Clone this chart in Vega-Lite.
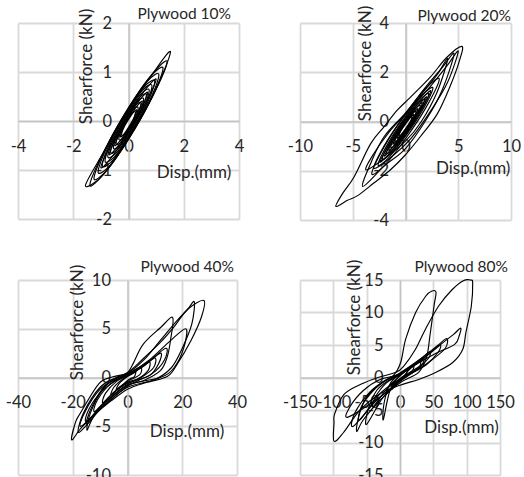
{
"$schema": "https://vega.github.io/schema/vega-lite/v6.json",
"padding": {"left": 5, "top": 5, "right": 0, "bottom": 0},
"background": "white",
"config": {
 "view": {"stroke": null},
 "font": "Lato",
 "axis": {"grid": true, "gridColor": "#d9d9d9", "gridWidth": 1.8, "domainColor": "#c4c4c4", "domainWidth": 1.5, "ticks": false, "tickSize": 0, "labelFont": "Lato", "labelFontSize": 16.5, "labelColor": "#262626", "labelFlush": false, "labelOverlap": false, "labelExpr": "'' + datum.value", "titleFont": "Lato", "titleFontSize": 17, "titleFontWeight": "normal", "titleColor": "#262626", "titleAlign": "center", "titleBaseline": "middle"},
 "axisX": {"labelPadding": 17},
 "axisY": {"labelPadding": 17},
 "title": {"font": "Lato", "fontSize": 15.5, "fontWeight": "normal", "color": "#262626", "anchor": "end", "frame": "group"},
 "line": {"color": "black", "strokeWidth": 1.15, "interpolate": "cardinal-closed"}
},
"columns": 2,
"spacing": {"row": 60, "column": 61},
"bounds": "flush",
"concat": [
{
 "width": 221, "height": 196,
 "title": {"text": "Plywood 10%", "offset": -14, "dx": -8},
 "data": {"values": [
{"c":1,"i":1,"x":0.25,"y":0.175},{"c":1,"i":2,"x":0.15,"y":-0.011},{"c":1,"i":3,"x":0,"y":-0.17},{"c":1,"i":4,"x":-0.15,"y":-0.281},{"c":1,"i":5,"x":-0.25,"y":-0.275},{"c":1,"i":6,"x":-0.15,"y":-0.089},{"c":1,"i":7,"x":0,"y":0.07},{"c":1,"i":8,"x":0.15,"y":0.181},
{"c":2,"i":1,"x":0.35,"y":0.265},{"c":2,"i":2,"x":0.21,"y":0.019},{"c":2,"i":3,"x":0,"y":-0.2},{"c":2,"i":4,"x":-0.21,"y":-0.359},{"c":2,"i":5,"x":-0.35,"y":-0.365},{"c":2,"i":6,"x":-0.21,"y":-0.119},{"c":2,"i":7,"x":0,"y":0.1},{"c":2,"i":8,"x":0.21,"y":0.259},
{"c":3,"i":1,"x":0.45,"y":0.355},{"c":3,"i":2,"x":0.27,"y":0.049},{"c":3,"i":3,"x":0,"y":-0.23},{"c":3,"i":4,"x":-0.27,"y":-0.437},{"c":3,"i":5,"x":-0.45,"y":-0.455},{"c":3,"i":6,"x":-0.27,"y":-0.149},{"c":3,"i":7,"x":0,"y":0.13},{"c":3,"i":8,"x":0.27,"y":0.337},
{"c":4,"i":1,"x":0.55,"y":0.445},{"c":4,"i":2,"x":0.33,"y":0.087},{"c":4,"i":3,"x":0,"y":-0.25},{"c":4,"i":4,"x":-0.33,"y":-0.507},{"c":4,"i":5,"x":-0.55,"y":-0.545},{"c":4,"i":6,"x":-0.33,"y":-0.187},{"c":4,"i":7,"x":0,"y":0.15},{"c":4,"i":8,"x":0.33,"y":0.407},
{"c":5,"i":1,"x":0.65,"y":0.535},{"c":5,"i":2,"x":0.39,"y":0.125},{"c":5,"i":3,"x":0,"y":-0.27},{"c":5,"i":4,"x":-0.39,"y":-0.577},{"c":5,"i":5,"x":-0.65,"y":-0.635},{"c":5,"i":6,"x":-0.39,"y":-0.225},{"c":5,"i":7,"x":0,"y":0.17},{"c":5,"i":8,"x":0.39,"y":0.477},
{"c":6,"i":1,"x":0.75,"y":0.625},{"c":6,"i":2,"x":0.45,"y":0.155},{"c":6,"i":3,"x":0,"y":-0.3},{"c":6,"i":4,"x":-0.45,"y":-0.655},{"c":6,"i":5,"x":-0.75,"y":-0.725},{"c":6,"i":6,"x":-0.45,"y":-0.255},{"c":6,"i":7,"x":0,"y":0.2},{"c":6,"i":8,"x":0.45,"y":0.555},
{"c":7,"i":1,"x":0.85,"y":0.715},{"c":7,"i":2,"x":0.51,"y":0.185},{"c":7,"i":3,"x":0,"y":-0.33},{"c":7,"i":4,"x":-0.51,"y":-0.733},{"c":7,"i":5,"x":-0.85,"y":-0.815},{"c":7,"i":6,"x":-0.51,"y":-0.285},{"c":7,"i":7,"x":0,"y":0.23},{"c":7,"i":8,"x":0.51,"y":0.633},
{"c":8,"i":1,"x":0.95,"y":0.805},{"c":8,"i":2,"x":0.57,"y":0.223},{"c":8,"i":3,"x":0,"y":-0.35},{"c":8,"i":4,"x":-0.57,"y":-0.803},{"c":8,"i":5,"x":-0.95,"y":-0.905},{"c":8,"i":6,"x":-0.57,"y":-0.323},{"c":8,"i":7,"x":0,"y":0.25},{"c":8,"i":8,"x":0.57,"y":0.703},
{"c":9,"i":1,"x":1.1,"y":0.94},{"c":9,"i":2,"x":0.66,"y":0.288},{"c":9,"i":3,"x":0,"y":-0.37},{"c":9,"i":4,"x":-0.66,"y":-0.9},{"c":9,"i":5,"x":-1.1,"y":-1.04},{"c":9,"i":6,"x":-0.66,"y":-0.388},{"c":9,"i":7,"x":0,"y":0.27},{"c":9,"i":8,"x":0.66,"y":0.8},
{"c":10,"i":1,"x":1.25,"y":1.075},{"c":10,"i":2,"x":0.75,"y":0.369},{"c":10,"i":3,"x":0,"y":-0.37},{"c":10,"i":4,"x":-0.75,"y":-0.981},{"c":10,"i":5,"x":-1.25,"y":-1.175},{"c":10,"i":6,"x":-0.75,"y":-0.469},{"c":10,"i":7,"x":0,"y":0.27},{"c":10,"i":8,"x":0.75,"y":0.881},
{"c":11,"i":1,"x":1.4,"y":1.21},{"c":11,"i":2,"x":0.84,"y":0.466},{"c":11,"i":3,"x":0,"y":-0.35},{"c":11,"i":4,"x":-0.84,"y":-1.046},{"c":11,"i":5,"x":-1.4,"y":-1.31},{"c":11,"i":6,"x":-0.84,"y":-0.566},{"c":11,"i":7,"x":0,"y":0.25},{"c":11,"i":8,"x":0.84,"y":0.946},
{"c":12,"i":1,"x":1.52,"y":1.41},{"c":12,"i":2,"x":0.91,"y":0.546},{"c":12,"i":3,"x":0,"y":-0.33},{"c":12,"i":4,"x":-0.91,"y":-1.094},{"c":12,"i":5,"x":-1.56,"y":-1.32},{"c":12,"i":6,"x":-0.91,"y":-0.646},{"c":12,"i":7,"x":0,"y":0.23},{"c":12,"i":8,"x":0.91,"y":0.994},
{"c":13,"i":1,"x":0.3,"y":0.22},{"c":13,"i":2,"x":0.18,"y":0.048},{"c":13,"i":3,"x":0,"y":-0.13},{"c":13,"i":4,"x":-0.18,"y":-0.276},{"c":13,"i":5,"x":-0.3,"y":-0.32},{"c":13,"i":6,"x":-0.18,"y":-0.148},{"c":13,"i":7,"x":0,"y":0.03},{"c":13,"i":8,"x":0.18,"y":0.176},
{"c":14,"i":1,"x":0.5,"y":0.4},{"c":14,"i":2,"x":0.3,"y":0.14},{"c":14,"i":3,"x":0,"y":-0.15},{"c":14,"i":4,"x":-0.3,"y":-0.4},{"c":14,"i":5,"x":-0.5,"y":-0.5},{"c":14,"i":6,"x":-0.3,"y":-0.24},{"c":14,"i":7,"x":0,"y":0.05},{"c":14,"i":8,"x":0.3,"y":0.3},
{"c":15,"i":1,"x":0.7,"y":0.58},{"c":15,"i":2,"x":0.42,"y":0.216},{"c":15,"i":3,"x":0,"y":-0.19},{"c":15,"i":4,"x":-0.42,"y":-0.54},{"c":15,"i":5,"x":-0.7,"y":-0.68},{"c":15,"i":6,"x":-0.42,"y":-0.316},{"c":15,"i":7,"x":0,"y":0.09},{"c":15,"i":8,"x":0.42,"y":0.44},
{"c":16,"i":1,"x":1.0,"y":0.85},{"c":16,"i":2,"x":0.6,"y":0.346},{"c":16,"i":3,"x":0,"y":-0.23},{"c":16,"i":4,"x":-0.6,"y":-0.734},{"c":16,"i":5,"x":-1.0,"y":-0.95},{"c":16,"i":6,"x":-0.6,"y":-0.446},{"c":16,"i":7,"x":0,"y":0.13},{"c":16,"i":8,"x":0.6,"y":0.634}
 ]},
 "mark": {"type": "line"},
 "encoding": {
  "x": {"field": "x", "type": "quantitative", "scale": {"domain": [-4, 4], "nice": false, "zero": false}, "axis": {"values": [-4, -2, 0, 2, 4], "offset": -98, "title": "Disp.(mm)", "titleX": 175.5, "titleY": 51.5}},
  "y": {"field": "y", "type": "quantitative", "scale": {"domain": [-2, 2], "nice": false, "zero": false}, "axis": {"values": [-2, -1, 0, 1, 2], "offset": -110.5, "title": "Shearforce (kN)", "titleX": -42, "titleY": 43}},
  "detail": {"field": "c", "type": "nominal"},
  "order": {"field": "i", "type": "quantitative"}
 }
},
{
 "width": 211, "height": 197,
 "title": {"text": "Plywood 20%", "offset": -19, "dx": 0},
 "data": {"values": [
{"c":1,"i":1,"x":5.35,"y":3.05},{"c":1,"i":2,"x":5.1,"y":2.45},{"c":1,"i":3,"x":4.2,"y":1.4},{"c":1,"i":4,"x":3.0,"y":0.3},{"c":1,"i":5,"x":1.4,"y":-0.62},{"c":1,"i":6,"x":0,"y":-1.35},{"c":1,"i":7,"x":-1.4,"y":-1.95},{"c":1,"i":8,"x":-3.0,"y":-2.5},{"c":1,"i":9,"x":-4.5,"y":-3.0},{"c":1,"i":10,"x":-5.5,"y":-3.2},{"c":1,"i":11,"x":-6.6,"y":-3.45},{"c":1,"i":12,"x":-6.0,"y":-2.95},{"c":1,"i":13,"x":-4.85,"y":-2.23},{"c":1,"i":14,"x":-3.3,"y":-0.9},{"c":1,"i":15,"x":-2.0,"y":-0.2},{"c":1,"i":16,"x":-0.8,"y":0.45},{"c":1,"i":17,"x":0.5,"y":1.0},{"c":1,"i":18,"x":2.35,"y":1.8},{"c":1,"i":19,"x":3.9,"y":2.6},
{"c":2,"i":1,"x":4.6,"y":2.75},{"c":2,"i":2,"x":3.5,"y":1.3},{"c":2,"i":3,"x":2.0,"y":0.1},{"c":2,"i":4,"x":0,"y":-1.1},{"c":2,"i":5,"x":-2.0,"y":-1.8},{"c":2,"i":6,"x":-4.06,"y":-2.64},{"c":2,"i":7,"x":-3.2,"y":-1.6},{"c":2,"i":8,"x":-2.0,"y":-0.6},{"c":2,"i":9,"x":0,"y":0.35},{"c":2,"i":10,"x":2.0,"y":1.45},{"c":2,"i":11,"x":3.5,"y":2.2},
{"c":3,"i":1,"x":4.0,"y":2.55},{"c":3,"i":2,"x":3.0,"y":1.2},{"c":3,"i":3,"x":1.5,"y":0.0},{"c":3,"i":4,"x":0,"y":-0.8},{"c":3,"i":5,"x":-2,"y":-1.5},{"c":3,"i":6,"x":-3.75,"y":-1.97},{"c":3,"i":7,"x":-3,"y":-1.3},{"c":3,"i":8,"x":-1.5,"y":-0.4},{"c":3,"i":9,"x":0,"y":0.3},{"c":3,"i":10,"x":1.5,"y":1.1},{"c":3,"i":11,"x":3,"y":1.9},
{"c":4,"i":1,"x":5.0,"y":2.85},{"c":4,"i":2,"x":4.0,"y":1.6},{"c":4,"i":3,"x":2.5,"y":0.5},{"c":4,"i":4,"x":0.5,"y":-0.7},{"c":4,"i":5,"x":-1.5,"y":-1.5},{"c":4,"i":6,"x":-3.0,"y":-1.9},{"c":4,"i":7,"x":-2.3,"y":-1.2},{"c":4,"i":8,"x":-1.0,"y":-0.3},{"c":4,"i":9,"x":0.5,"y":0.55},{"c":4,"i":10,"x":2.5,"y":1.5},{"c":4,"i":11,"x":4.0,"y":2.3},
{"c":5,"i":1,"x":0.6,"y":0.16},{"c":5,"i":2,"x":0.36,"y":-0.104},{"c":5,"i":3,"x":0,"y":-0.35},{"c":5,"i":4,"x":-0.36,"y":-0.536},{"c":5,"i":5,"x":-0.6,"y":-0.56},{"c":5,"i":6,"x":-0.36,"y":-0.296},{"c":5,"i":7,"x":0,"y":-0.05},{"c":5,"i":8,"x":0.36,"y":0.136},
{"c":6,"i":1,"x":1,"y":0.4},{"c":6,"i":2,"x":0.6,"y":0.0},{"c":6,"i":3,"x":0,"y":-0.4},{"c":6,"i":4,"x":-0.6,"y":-0.72},{"c":6,"i":5,"x":-1,"y":-0.8},{"c":6,"i":6,"x":-0.6,"y":-0.4},{"c":6,"i":7,"x":0,"y":0.0},{"c":6,"i":8,"x":0.6,"y":0.32},
{"c":7,"i":1,"x":1.4,"y":0.64},{"c":7,"i":2,"x":0.84,"y":0.104},{"c":7,"i":3,"x":0,"y":-0.45},{"c":7,"i":4,"x":-0.84,"y":-0.904},{"c":7,"i":5,"x":-1.4,"y":-1.04},{"c":7,"i":6,"x":-0.84,"y":-0.504},{"c":7,"i":7,"x":0,"y":0.05},{"c":7,"i":8,"x":0.84,"y":0.504},
{"c":8,"i":1,"x":1.8,"y":0.88},{"c":8,"i":2,"x":1.08,"y":0.208},{"c":8,"i":3,"x":0,"y":-0.5},{"c":8,"i":4,"x":-1.08,"y":-1.088},{"c":8,"i":5,"x":-1.8,"y":-1.28},{"c":8,"i":6,"x":-1.08,"y":-0.608},{"c":8,"i":7,"x":0,"y":0.1},{"c":8,"i":8,"x":1.08,"y":0.688},
{"c":9,"i":1,"x":2.2,"y":1.12},{"c":9,"i":2,"x":1.32,"y":0.312},{"c":9,"i":3,"x":0,"y":-0.55},{"c":9,"i":4,"x":-1.32,"y":-1.272},{"c":9,"i":5,"x":-2.2,"y":-1.52},{"c":9,"i":6,"x":-1.32,"y":-0.712},{"c":9,"i":7,"x":0,"y":0.15},{"c":9,"i":8,"x":1.32,"y":0.872},
{"c":10,"i":1,"x":2.6,"y":1.36},{"c":10,"i":2,"x":1.56,"y":0.416},{"c":10,"i":3,"x":0,"y":-0.6},{"c":10,"i":4,"x":-1.56,"y":-1.456},{"c":10,"i":5,"x":-2.6,"y":-1.76},{"c":10,"i":6,"x":-1.56,"y":-0.816},{"c":10,"i":7,"x":0,"y":0.2},{"c":10,"i":8,"x":1.56,"y":1.056},
{"c":11,"i":1,"x":3.2,"y":1.72},{"c":11,"i":2,"x":1.92,"y":0.552},{"c":11,"i":3,"x":0,"y":-0.7},{"c":11,"i":4,"x":-1.92,"y":-1.752},{"c":11,"i":5,"x":-3.2,"y":-2.12},{"c":11,"i":6,"x":-1.92,"y":-0.952},{"c":11,"i":7,"x":0,"y":0.3},{"c":11,"i":8,"x":1.92,"y":1.352},
{"c":12,"i":1,"x":0.8,"y":0.28},{"c":12,"i":2,"x":0.48,"y":0.008},{"c":12,"i":3,"x":0,"y":-0.3},{"c":12,"i":4,"x":-0.48,"y":-0.568},{"c":12,"i":5,"x":-0.8,"y":-0.68},{"c":12,"i":6,"x":-0.48,"y":-0.408},{"c":12,"i":7,"x":0,"y":-0.1},{"c":12,"i":8,"x":0.48,"y":0.168},
{"c":13,"i":1,"x":1.6,"y":0.76},{"c":13,"i":2,"x":0.96,"y":0.216},{"c":13,"i":3,"x":0,"y":-0.4},{"c":13,"i":4,"x":-0.96,"y":-0.936},{"c":13,"i":5,"x":-1.6,"y":-1.16},{"c":13,"i":6,"x":-0.96,"y":-0.616},{"c":13,"i":7,"x":0,"y":0.0},{"c":13,"i":8,"x":0.96,"y":0.536},
{"c":14,"i":1,"x":2.4,"y":1.24},{"c":14,"i":2,"x":1.44,"y":0.464},{"c":14,"i":3,"x":0,"y":-0.45},{"c":14,"i":4,"x":-1.44,"y":-1.264},{"c":14,"i":5,"x":-2.4,"y":-1.64},{"c":14,"i":6,"x":-1.44,"y":-0.864},{"c":14,"i":7,"x":0,"y":0.05},{"c":14,"i":8,"x":1.44,"y":0.864},
{"c":15,"i":1,"x":2.0,"y":1.0},{"c":15,"i":2,"x":1.2,"y":0.4},{"c":15,"i":3,"x":0,"y":-0.35},{"c":15,"i":4,"x":-1.2,"y":-1.04},{"c":15,"i":5,"x":-2.0,"y":-1.4},{"c":15,"i":6,"x":-1.2,"y":-0.8},{"c":15,"i":7,"x":0,"y":-0.05},{"c":15,"i":8,"x":1.2,"y":0.64},
{"c":16,"i":1,"x":1.2,"y":0.52},{"c":16,"i":2,"x":0.72,"y":0.136},{"c":16,"i":3,"x":0,"y":-0.32},{"c":16,"i":4,"x":-0.72,"y":-0.728},{"c":16,"i":5,"x":-1.2,"y":-0.92},{"c":16,"i":6,"x":-0.72,"y":-0.536},{"c":16,"i":7,"x":0,"y":-0.08},{"c":16,"i":8,"x":0.72,"y":0.328}
 ]},
 "mark": {"type": "line"},
 "encoding": {
  "x": {"field": "x", "type": "quantitative", "scale": {"domain": [-10, 10], "nice": false, "zero": false}, "axis": {"values": [-10, -5, 0, 5, 10], "offset": -98.5, "title": "Disp.(mm)", "titleX": 172.7, "titleY": 46.5}},
  "y": {"field": "y", "type": "quantitative", "scale": {"domain": [-4, 4], "nice": false, "zero": false}, "axis": {"values": [-4, -2, 0, 2, 4], "offset": -105.5, "title": "Shearforce (kN)", "titleX": -40, "titleY": 40}},
  "detail": {"field": "c", "type": "nominal"},
  "order": {"field": "i", "type": "quantitative"}
 }
},
{
 "width": 219, "height": 195,
 "title": {"text": "Plywood 40%", "offset": -11, "dx": -3},
 "data": {"values": [
{"c":1,"i":1,"x":27.9,"y":7.9},{"c":1,"i":2,"x":27,"y":6.2},{"c":1,"i":3,"x":23.2,"y":3.8},{"c":1,"i":4,"x":18.2,"y":1.4},{"c":1,"i":5,"x":14.5,"y":0.1},{"c":1,"i":6,"x":5.7,"y":-0.6},{"c":1,"i":7,"x":0,"y":-1.2},{"c":1,"i":8,"x":-6,"y":-2.4},{"c":1,"i":9,"x":-12,"y":-3.8},{"c":1,"i":10,"x":-17,"y":-5.2},{"c":1,"i":11,"x":-20.4,"y":-6.4},{"c":1,"i":12,"x":-19,"y":-4.6},{"c":1,"i":13,"x":-17.3,"y":-3.7},{"c":1,"i":14,"x":-10.5,"y":-0.65},{"c":1,"i":15,"x":-5.6,"y":0.05},{"c":1,"i":16,"x":0,"y":0.5},{"c":1,"i":17,"x":6,"y":2.0},{"c":1,"i":18,"x":12,"y":3.6},{"c":1,"i":19,"x":17,"y":5.2},{"c":1,"i":20,"x":22,"y":7.0},
{"c":2,"i":1,"x":24.4,"y":7.75},{"c":2,"i":2,"x":23.5,"y":5.5},{"c":2,"i":3,"x":20,"y":3.0},{"c":2,"i":4,"x":16,"y":1.0},{"c":2,"i":5,"x":10,"y":-0.2},{"c":2,"i":6,"x":0,"y":-1.0},{"c":2,"i":7,"x":-7,"y":-2.5},{"c":2,"i":8,"x":-12,"y":-3.8},{"c":2,"i":9,"x":-14.8,"y":-5.4},{"c":2,"i":10,"x":-13.5,"y":-3.6},{"c":2,"i":11,"x":-9,"y":-1.2},{"c":2,"i":12,"x":-4,"y":0.0},{"c":2,"i":13,"x":0,"y":0.4},{"c":2,"i":14,"x":6,"y":1.8},{"c":2,"i":15,"x":12,"y":3.8},{"c":2,"i":16,"x":18,"y":5.8},{"c":2,"i":17,"x":22,"y":7.0},
{"c":3,"i":1,"x":16.5,"y":6.15},{"c":3,"i":2,"x":15.7,"y":3.8},{"c":3,"i":3,"x":14.5,"y":2.1},{"c":3,"i":4,"x":12,"y":0.7},{"c":3,"i":5,"x":6,"y":-0.3},{"c":3,"i":6,"x":0,"y":-0.8},{"c":3,"i":7,"x":-8,"y":-2.6},{"c":3,"i":8,"x":-14,"y":-4.6},{"c":3,"i":9,"x":-18,"y":-5.6},{"c":3,"i":10,"x":-16,"y":-3.6},{"c":3,"i":11,"x":-10,"y":-1.0},{"c":3,"i":12,"x":-4,"y":0.0},{"c":3,"i":13,"x":0,"y":0.5},{"c":3,"i":14,"x":2,"y":1.4},{"c":3,"i":15,"x":5.7,"y":3.4},{"c":3,"i":16,"x":12,"y":5.1},
{"c":4,"i":1,"x":21.3,"y":5.0},{"c":4,"i":2,"x":20.5,"y":3.0},{"c":4,"i":3,"x":17,"y":1.0},{"c":4,"i":4,"x":12,"y":0.0},{"c":4,"i":5,"x":0,"y":-0.8},{"c":4,"i":6,"x":-10,"y":-3},{"c":4,"i":7,"x":-15,"y":-4.8},{"c":4,"i":8,"x":-13,"y":-3},{"c":4,"i":9,"x":-8,"y":-0.8},{"c":4,"i":10,"x":0,"y":0.3},{"c":4,"i":11,"x":8,"y":1.8},{"c":4,"i":12,"x":15,"y":3.6},
{"c":5,"i":1,"x":12,"y":2.5},{"c":5,"i":2,"x":11.5,"y":1.5},{"c":5,"i":3,"x":8,"y":0.2},{"c":5,"i":4,"x":0,"y":-0.6},{"c":5,"i":5,"x":-6,"y":-1.8},{"c":5,"i":6,"x":-12,"y":-3.5},{"c":5,"i":7,"x":-11,"y":-2.3},{"c":5,"i":8,"x":-6,"y":-0.6},{"c":5,"i":9,"x":0,"y":0.3},{"c":5,"i":10,"x":6,"y":1.2},
{"c":6,"i":1,"x":8,"y":1.6},{"c":6,"i":2,"x":7.5,"y":0.7},{"c":6,"i":3,"x":4,"y":-0.1},{"c":6,"i":4,"x":0,"y":-0.5},{"c":6,"i":5,"x":-5,"y":-1.5},{"c":6,"i":6,"x":-9,"y":-2.6},{"c":6,"i":7,"x":-8,"y":-1.6},{"c":6,"i":8,"x":-4,"y":-0.4},{"c":6,"i":9,"x":0,"y":0.2},{"c":6,"i":10,"x":4,"y":0.9},
{"c":7,"i":1,"x":5,"y":1.0},{"c":7,"i":2,"x":4.5,"y":0.3},{"c":7,"i":3,"x":0,"y":-0.4},{"c":7,"i":4,"x":-3,"y":-1.0},{"c":7,"i":5,"x":-6,"y":-1.8},{"c":7,"i":6,"x":-5,"y":-1.0},{"c":7,"i":7,"x":-2,"y":-0.2},{"c":7,"i":8,"x":0,"y":0.15},{"c":7,"i":9,"x":3,"y":0.6},
{"c":8,"i":1,"x":3,"y":0.6},{"c":8,"i":2,"x":2.5,"y":0.1},{"c":8,"i":3,"x":0,"y":-0.3},{"c":8,"i":4,"x":-4,"y":-1.3},{"c":8,"i":5,"x":-3,"y":-0.6},{"c":8,"i":6,"x":0,"y":0.1},{"c":8,"i":7,"x":2,"y":0.4},
{"c":9,"i":1,"x":10,"y":2.0},{"c":9,"i":2,"x":9.5,"y":1.0},{"c":9,"i":3,"x":5,"y":0.0},{"c":9,"i":4,"x":0,"y":-0.7},{"c":9,"i":5,"x":-8,"y":-2.5},{"c":9,"i":6,"x":-15,"y":-4.5},{"c":9,"i":7,"x":-14,"y":-3.2},{"c":9,"i":8,"x":-9,"y":-1.3},{"c":9,"i":9,"x":-3,"y":-0.1},{"c":9,"i":10,"x":0,"y":0.3},{"c":9,"i":11,"x":5,"y":1.0},
{"c":10,"i":1,"x":14,"y":3.0},{"c":10,"i":2,"x":13.5,"y":1.8},{"c":10,"i":3,"x":9,"y":0.4},{"c":10,"i":4,"x":0,"y":-0.9},{"c":10,"i":5,"x":-9,"y":-3.0},{"c":10,"i":6,"x":-17,"y":-5.0},{"c":10,"i":7,"x":-15.5,"y":-3.5},{"c":10,"i":8,"x":-10,"y":-1.2},{"c":10,"i":9,"x":-4,"y":-0.1},{"c":10,"i":10,"x":0,"y":0.4},{"c":10,"i":11,"x":7,"y":1.5}
 ]},
 "mark": {"type": "line"},
 "encoding": {
  "x": {"field": "x", "type": "quantitative", "scale": {"domain": [-40, 40], "nice": false, "zero": false}, "axis": {"values": [-40, -20, 0, 20, 40], "offset": -97.5, "title": "Disp.(mm)", "titleX": 168.5, "titleY": 54}},
  "y": {"field": "y", "type": "quantitative", "scale": {"domain": [-10, 10], "nice": false, "zero": false}, "axis": {"values": [-10, -5, 0, 5, 10], "offset": -109.5, "title": "Shearforce (kN)", "titleX": -50, "titleY": 42}},
  "detail": {"field": "c", "type": "nominal"},
  "order": {"field": "i", "type": "quantitative"}
 }
},
{
 "width": 200, "height": 195,
 "title": {"text": "Plywood 80%", "offset": -16, "dx": 8},
 "data": {"values": [
{"c":1,"i":1,"x":106,"y":15},{"c":1,"i":2,"x":109,"y":14.5},{"c":1,"i":3,"x":107,"y":11},{"c":1,"i":4,"x":99,"y":7},{"c":1,"i":5,"x":94,"y":4.3},{"c":1,"i":6,"x":79,"y":2.3},{"c":1,"i":7,"x":54,"y":0.8},{"c":1,"i":8,"x":28,"y":-0.3},{"c":1,"i":9,"x":0,"y":-1.2},{"c":1,"i":10,"x":-30,"y":-2.5},{"c":1,"i":11,"x":-60,"y":-5},{"c":1,"i":12,"x":-85,"y":-8.5},{"c":1,"i":13,"x":-99,"y":-9.8},{"c":1,"i":14,"x":-99,"y":-7},{"c":1,"i":15,"x":-98,"y":-5.6},{"c":1,"i":16,"x":-84,"y":-2.6},{"c":1,"i":17,"x":-58,"y":-1.0},{"c":1,"i":18,"x":-33,"y":0.0},{"c":1,"i":19,"x":-6,"y":0.8},{"c":1,"i":20,"x":6,"y":1.8},{"c":1,"i":21,"x":23,"y":4.3},{"c":1,"i":22,"x":38,"y":7.4},{"c":1,"i":23,"x":58,"y":11},{"c":1,"i":24,"x":78,"y":13.5},{"c":1,"i":25,"x":95,"y":14.9},
{"c":2,"i":1,"x":54,"y":13.1},{"c":2,"i":2,"x":51,"y":11},{"c":2,"i":3,"x":45,"y":6.5},{"c":2,"i":4,"x":40,"y":3.2},{"c":2,"i":5,"x":28,"y":0.8},{"c":2,"i":6,"x":0,"y":-0.8},{"c":2,"i":7,"x":-30,"y":-3.5},{"c":2,"i":8,"x":-55,"y":-6.5},{"c":2,"i":9,"x":-65,"y":-8.3},{"c":2,"i":10,"x":-62,"y":-6},{"c":2,"i":11,"x":-50,"y":-3},{"c":2,"i":12,"x":-30,"y":-1},{"c":2,"i":13,"x":-10,"y":0.3},{"c":2,"i":14,"x":1,"y":2.3},{"c":2,"i":15,"x":8.5,"y":5.9},{"c":2,"i":16,"x":23.5,"y":10},{"c":2,"i":17,"x":38.5,"y":12.5},{"c":2,"i":18,"x":48,"y":13.3},
{"c":3,"i":1,"x":91,"y":7.6},{"c":3,"i":2,"x":89,"y":6.5},{"c":3,"i":3,"x":82,"y":5.1},{"c":3,"i":4,"x":52,"y":3.6},{"c":3,"i":5,"x":17,"y":1.5},{"c":3,"i":6,"x":0,"y":-0.5},{"c":3,"i":7,"x":-30,"y":-3},{"c":3,"i":8,"x":-78,"y":-6.1},{"c":3,"i":9,"x":-75,"y":-4.5},{"c":3,"i":10,"x":-55,"y":-2},{"c":3,"i":11,"x":-30,"y":-0.3},{"c":3,"i":12,"x":0,"y":0.5},{"c":3,"i":13,"x":30,"y":2.5},{"c":3,"i":14,"x":60,"y":5},{"c":3,"i":15,"x":80,"y":6.6},
{"c":4,"i":1,"x":60,"y":5.0},{"c":4,"i":2,"x":58,"y":4},{"c":4,"i":3,"x":40,"y":2.0},{"c":4,"i":4,"x":20,"y":0.8},{"c":4,"i":5,"x":0,"y":-0.5},{"c":4,"i":6,"x":-25,"y":-3},{"c":4,"i":7,"x":-50,"y":-7.2},{"c":4,"i":8,"x":-48,"y":-5},{"c":4,"i":9,"x":-35,"y":-2},{"c":4,"i":10,"x":-15,"y":-0.3},{"c":4,"i":11,"x":0,"y":0.5},{"c":4,"i":12,"x":20,"y":1.8},{"c":4,"i":13,"x":45,"y":3.8},
{"c":5,"i":1,"x":45,"y":4.0},{"c":5,"i":2,"x":43,"y":3.0},{"c":5,"i":3,"x":25,"y":1.2},{"c":5,"i":4,"x":0,"y":-0.3},{"c":5,"i":5,"x":-15,"y":-2},{"c":5,"i":6,"x":-25,"y":-6.5},{"c":5,"i":7,"x":-24,"y":-4},{"c":5,"i":8,"x":-15,"y":-1},{"c":5,"i":9,"x":0,"y":0.6},{"c":5,"i":10,"x":20,"y":2},{"c":5,"i":11,"x":35,"y":3.2},
{"c":6,"i":1,"x":30,"y":2.5},{"c":6,"i":2,"x":28,"y":1.5},{"c":6,"i":3,"x":10,"y":0.3},{"c":6,"i":4,"x":0,"y":-0.3},{"c":6,"i":5,"x":-20,"y":-1.8},{"c":6,"i":6,"x":-40,"y":-4.5},{"c":6,"i":7,"x":-38,"y":-3.2},{"c":6,"i":8,"x":-20,"y":-0.8},{"c":6,"i":9,"x":0,"y":0.4},{"c":6,"i":10,"x":15,"y":1.5},
{"c":7,"i":1,"x":20,"y":1.8},{"c":7,"i":2,"x":18,"y":1.0},{"c":7,"i":3,"x":5,"y":0},{"c":7,"i":4,"x":-10,"y":-1.2},{"c":7,"i":5,"x":-20,"y":-2.5},{"c":7,"i":6,"x":-18,"y":-1.5},{"c":7,"i":7,"x":-5,"y":-0.2},{"c":7,"i":8,"x":5,"y":0.7},
{"c":8,"i":1,"x":10,"y":1.2},{"c":8,"i":2,"x":9,"y":0.5},{"c":8,"i":3,"x":0,"y":-0.2},{"c":8,"i":4,"x":-12,"y":-1.8},{"c":8,"i":5,"x":-11,"y":-1.0},{"c":8,"i":6,"x":0,"y":0.3},
{"c":9,"i":1,"x":35,"y":3.0},{"c":9,"i":2,"x":33,"y":2.0},{"c":9,"i":3,"x":15,"y":0.8},{"c":9,"i":4,"x":0,"y":-0.2},{"c":9,"i":5,"x":-30,"y":-2.5},{"c":9,"i":6,"x":-60,"y":-6.5},{"c":9,"i":7,"x":-58,"y":-4.5},{"c":9,"i":8,"x":-40,"y":-2},{"c":9,"i":9,"x":-20,"y":-0.4},{"c":9,"i":10,"x":0,"y":0.6},{"c":9,"i":11,"x":20,"y":1.8},
{"c":10,"i":1,"x":70,"y":6.0},{"c":10,"i":2,"x":68,"y":4.5},{"c":10,"i":3,"x":45,"y":2.5},{"c":10,"i":4,"x":20,"y":0.8},{"c":10,"i":5,"x":0,"y":-0.6},{"c":10,"i":6,"x":-35,"y":-3.5},{"c":10,"i":7,"x":-70,"y":-7.5},{"c":10,"i":8,"x":-68,"y":-5.5},{"c":10,"i":9,"x":-45,"y":-2.2},{"c":10,"i":10,"x":-20,"y":-0.3},{"c":10,"i":11,"x":0,"y":0.7},{"c":10,"i":12,"x":30,"y":2.8},{"c":10,"i":13,"x":55,"y":4.8}
 ]},
 "mark": {"type": "line"},
 "encoding": {
  "x": {"field": "x", "type": "quantitative", "scale": {"domain": [-150, 150], "nice": false, "zero": false}, "axis": {"values": [-150, -100, -50, 0, 50, 100, 150], "offset": -97.5, "title": "Disp.(mm)", "titleX": 161, "titleY": 49.5}},
  "y": {"field": "y", "type": "quantitative", "scale": {"domain": [-15, 15], "nice": false, "zero": false}, "axis": {"values": [-15, -10, -5, 0, 5, 10, 15], "offset": -100, "title": "Shearforce (kN)", "titleX": -46, "titleY": 37}},
  "detail": {"field": "c", "type": "nominal"},
  "order": {"field": "i", "type": "quantitative"}
 }
}
]
}
